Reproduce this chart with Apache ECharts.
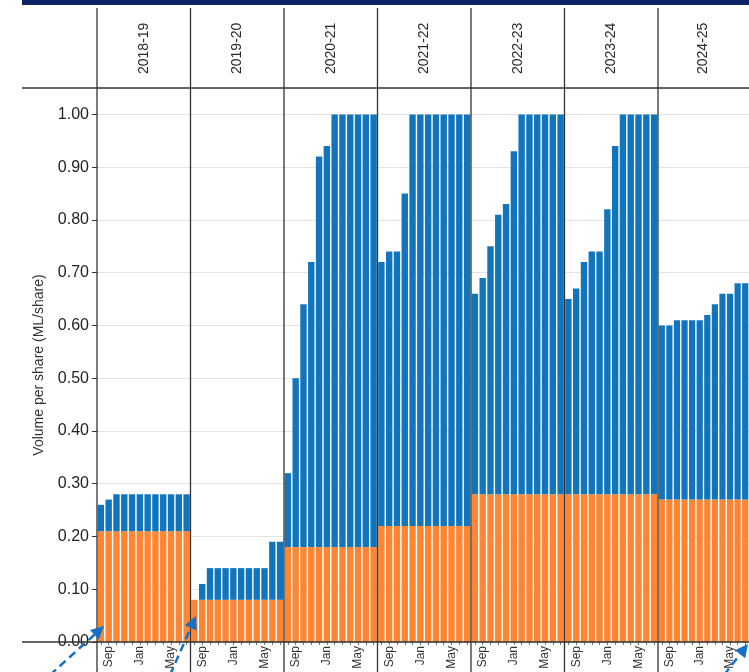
<!DOCTYPE html>
<html>
<head>
<meta charset="utf-8">
<script src="https://cdn.jsdelivr.net/npm/echarts@6/dist/echarts.min.js"></script>
<style>
  html, body { margin: 0; padding: 0; background: #fff; }
  #chart { width: 749px; height: 672px; }
</style>
</head>
<body>
<div id="chart"></div>
<script>
// facet panels (water years) and months inside each panel
const years = ['2018-19', '2019-20', '2020-21', '2021-22', '2022-23', '2023-24', '2024-25'];
const months = ['Aug', 'Sep', 'Oct', 'Nov', 'Dec', 'Jan', 'Feb', 'Mar', 'Apr', 'May', 'Jun', 'Jul'];
const shownMonths = ['Sep', 'Jan', 'May'];
const yTicks = [0, 0.1, 0.2, 0.3, 0.4, 0.5, 0.6, 0.7, 0.8, 0.9, 1.0];

// orange part (bottom of each bar), ML/share
const base1819 = [0.21, 0.21, 0.21, 0.21, 0.21, 0.21, 0.21, 0.21, 0.21, 0.21, 0.21, 0.21];
const base1920 = [0.08, 0.08, 0.08, 0.08, 0.08, 0.08, 0.08, 0.08, 0.08, 0.08, 0.08, 0.08];
const base2021 = [0.18, 0.18, 0.18, 0.18, 0.18, 0.18, 0.18, 0.18, 0.18, 0.18, 0.18, 0.18];
const base2122 = [0.22, 0.22, 0.22, 0.22, 0.22, 0.22, 0.22, 0.22, 0.22, 0.22, 0.22, 0.22];
const base2223 = [0.28, 0.28, 0.28, 0.28, 0.28, 0.28, 0.28, 0.28, 0.28, 0.28, 0.28, 0.28];
const base2324 = [0.28, 0.28, 0.28, 0.28, 0.28, 0.28, 0.28, 0.28, 0.28, 0.28, 0.28, 0.28];
const base2425 = [0.27, 0.27, 0.27, 0.27, 0.27, 0.27, 0.27, 0.27, 0.27, 0.27, 0.27, 0.27];

// total bar height (orange + blue), ML/share
const total1819 = [0.26, 0.27, 0.28, 0.28, 0.28, 0.28, 0.28, 0.28, 0.28, 0.28, 0.28, 0.28];
const total1920 = [0.08, 0.11, 0.14, 0.14, 0.14, 0.14, 0.14, 0.14, 0.14, 0.14, 0.19, 0.19];
const total2021 = [0.32, 0.50, 0.64, 0.72, 0.92, 0.94, 1.00, 1.00, 1.00, 1.00, 1.00, 1.00];
const total2122 = [0.72, 0.74, 0.74, 0.85, 1.00, 1.00, 1.00, 1.00, 1.00, 1.00, 1.00, 1.00];
const total2223 = [0.66, 0.69, 0.75, 0.81, 0.83, 0.93, 1.00, 1.00, 1.00, 1.00, 1.00, 1.00];
const total2324 = [0.65, 0.67, 0.72, 0.74, 0.74, 0.82, 0.94, 1.00, 1.00, 1.00, 1.00, 1.00];
const total2425 = [0.60, 0.60, 0.61, 0.61, 0.61, 0.61, 0.62, 0.64, 0.66, 0.66, 0.68, 0.68];

const bases = [base1819, base1920, base2021, base2122, base2223, base2324, base2425];
const totals = [total1819, total1920, total2021, total2122, total2223, total2324, total2425];

// layout
const FONT = "'Liberation Sans', Arial, sans-serif";
const PANEL_LEFT = 97;
const PANEL_W = 93.5;
const TOP = 88;
const AXIS_Y = 642;
const ORANGE = '#ff8532';
const BLUE = '#1075bc';
const ARROW = '#1670c4';
const LINE = '#333';

let grids = [], xAxes = [], yAxes = [], series = [];
years.forEach((yr, i) => {
	grids.push({ left: PANEL_LEFT + PANEL_W * i, width: PANEL_W, top: TOP, bottom: 672 - AXIS_Y });
	// months along the bottom
	xAxes.push({
		type: 'category', gridIndex: i, data: months, position: 'bottom',
		axisLine: { show: false },
		axisTick: { show: true, interval: 0, alignWithLabel: true, length: 3, lineStyle: { color: '#777' } },
		axisLabel: {
			rotate: 90, margin: 4, fontSize: 12, color: '#333', fontFamily: FONT,
			interval: (idx, val) => shownMonths.indexOf(val) >= 0
		}
	});
	// facet strip label on top
	xAxes.push({
		type: 'category', gridIndex: i, data: [yr], position: 'top',
		axisLine: { show: false }, axisTick: { show: false },
		axisLabel: { rotate: -90, margin: 14, fontSize: 14, color: '#2a2a2a', fontFamily: FONT }
	});
	yAxes.push({
		type: 'value', gridIndex: i, min: 0, max: 1.05, interval: 0.1,
		name: i === 0 ? 'Volume per share (ML/share)' : '',
		nameLocation: 'middle', nameGap: 51,
		nameTextStyle: { fontSize: 14, color: '#333', fontFamily: FONT },
		axisLine: { show: false },
		axisTick: { show: i === 0, length: 5, lineStyle: { color: '#333' } },
		axisLabel: {
			show: i === 0, margin: 8, fontSize: 16, color: '#222', fontFamily: FONT,
			showMaxLabel: false,
			formatter: v => yTicks.some(t => Math.abs(t - v) < 1e-6) ? v.toFixed(2) : ''
		},
		splitLine: { show: true, lineStyle: { color: '#e3e3e3', width: 1 } }
	});
	const base = bases[i];
	const top = totals[i].map((t, k) => +(t - base[k]).toFixed(3));
	series.push({
		type: 'bar', xAxisIndex: 2 * i, yAxisIndex: i, stack: 'y' + i,
		data: base, barCategoryGap: '18%',
		itemStyle: { color: ORANGE }
	});
	series.push({
		type: 'bar', xAxisIndex: 2 * i, yAxisIndex: i, stack: 'y' + i,
		data: top, barCategoryGap: '18%',
		itemStyle: { color: BLUE }
	});
});

// panel frame: top band, strip / axis lines, panel separators
let graphic = [
	{ type: 'rect', shape: { x: 22, y: 0, width: 760, height: 5 }, style: { fill: '#0b2463' }, z: 100 },
	{ type: 'line', shape: { x1: 22, y1: TOP, x2: 760, y2: TOP }, style: { stroke: LINE, lineWidth: 1.3 }, z: 100 },
	{ type: 'line', shape: { x1: 22, y1: AXIS_Y, x2: 760, y2: AXIS_Y }, style: { stroke: LINE, lineWidth: 1.3 }, z: 100 }
];
for (let i = 0; i <= years.length; i++) {
	let x = PANEL_LEFT + PANEL_W * i;
	graphic.push({ type: 'line', shape: { x1: x, y1: 8, x2: x, y2: 672 }, style: { stroke: LINE, lineWidth: 1.3 }, z: 100 });
}

// dashed annotation arrows
function arrow(x1, y1, x2, y2) {
	let dx = x2 - x1, dy = y2 - y1, L = Math.hypot(dx, dy);
	let ux = dx / L, uy = dy / L, hl = 13, hw = 6.5;
	let bx = x2 - ux * hl, by = y2 - uy * hl;
	return [
		{ type: 'line', shape: { x1: x1, y1: y1, x2: bx, y2: by }, style: { stroke: ARROW, lineWidth: 2.5, lineDash: [8, 5] }, z: 110 },
		{ type: 'polygon', shape: { points: [[x2, y2], [bx - uy * hw, by + ux * hw], [bx + uy * hw, by - ux * hw]] }, style: { fill: ARROW }, z: 110 }
	];
}
graphic = graphic.concat(arrow(50, 675, 104, 626), arrow(170, 675, 196, 616), arrow(724, 675, 748, 644));

let myChart = echarts.init(document.getElementById('chart'));
myChart.setOption({
	animation: false,
	textStyle: { fontFamily: FONT },
	grid: grids,
	xAxis: xAxes,
	yAxis: yAxes,
	series: series,
	graphic: graphic
});
</script>
</body>
</html>
